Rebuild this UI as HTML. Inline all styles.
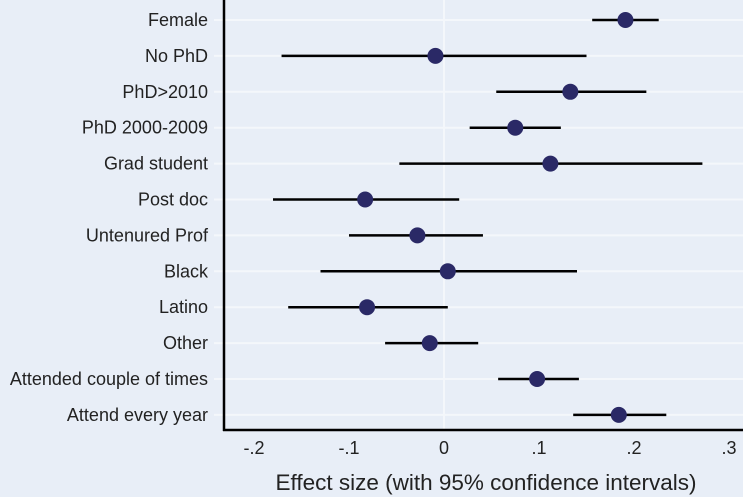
<!DOCTYPE html>
<html><head><meta charset="utf-8"><style>
html,body{margin:0;padding:0;background:#e8eef7;}
svg{display:block;font-family:"Liberation Sans",sans-serif;}
</style></head><body>
<svg id="chart" width="743" height="497">
<rect x="0" y="0" width="743" height="497" fill="#e8eef7"/>
</svg>
<script>
const categories=["Female","No PhD","PhD>2010","PhD 2000-2009","Grad student","Post doc","Untenured Prof","Black","Latino","Other","Attended couple of times","Attend every year"];
const estimates=[0.191,-0.009,0.133,0.075,0.112,-0.083,-0.028,0.004,-0.081,-0.015,0.098,0.184];
const ciLow=[0.156,-0.171,0.055,0.027,-0.047,-0.18,-0.1,-0.13,-0.164,-0.062,0.057,0.136];
const ciHigh=[0.226,0.15,0.213,0.123,0.272,0.016,0.041,0.14,0.004,0.036,0.142,0.234];
const tickValues=[-0.2,-0.1,0,0.1,0.2,0.3];
const tickLabels=["-.2","-.1","0",".1",".2",".3"];
const NS="http://www.w3.org/2000/svg";
const svg=document.getElementById('chart');
const xS=v=>444+950*v;
const yS=i=>20+i*35.9;
function mk(t,a){const e=document.createElementNS(NS,t);for(const k in a)e.setAttribute(k,a[k]);svg.appendChild(e);return e;}
categories.forEach((c,i)=>{
 const g=mk('line',{x1:214,x2:743,y1:yS(i),y2:yS(i),stroke:'#f4f7fb','stroke-width':2});
 
 
});
const zg=mk('line',{x1:xS(0),x2:xS(0),y1:0,y2:430,stroke:'#f4f7fb','stroke-width':2});


const ya=mk('line',{x1:224,x2:224,y1:0,y2:431,stroke:'#000','stroke-width':2.5});


const xa=mk('line',{x1:223,x2:743,y1:430,y2:430,stroke:'#000','stroke-width':2.5});


categories.forEach((c,i)=>{
 const t=mk('text',{x:208,y:yS(i)+6,'text-anchor':'end','font-size':18,fill:'#222'});
 t.textContent=c;
 
 
});
tickValues.forEach((v,i)=>{
 const t=mk('text',{x:xS(v),y:454,'text-anchor':'middle','font-size':18,fill:'#222'});
 t.textContent=tickLabels[i];
 
 
});
const at=mk('text',{x:486,y:490,'text-anchor':'middle','font-size':22.5,fill:'#222'});
at.textContent="Effect size (with 95% confidence intervals)";


categories.forEach((c,i)=>{
 const l=mk('line',{x1:xS(ciLow[i]),x2:xS(ciHigh[i]),y1:yS(i),y2:yS(i),stroke:'#000','stroke-width':2.5});
 
 
 const d=mk('circle',{cx:xS(estimates[i]),cy:yS(i),r:8,fill:'#2a2966'});
 
 
});
</script>
</body></html>
